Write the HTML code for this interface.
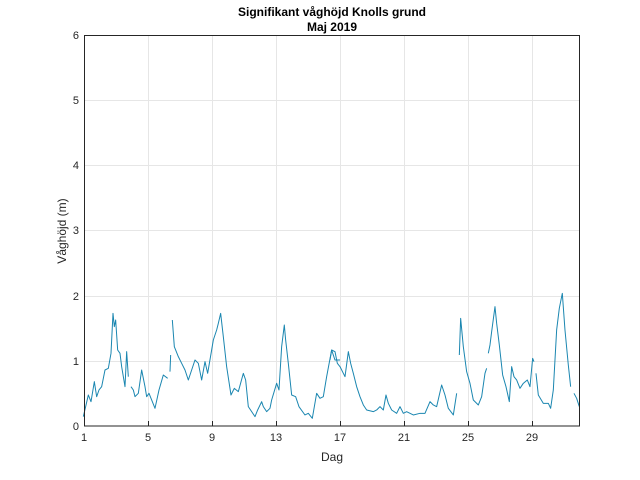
<!DOCTYPE html>
<html><head><meta charset="utf-8"><style>
body{margin:0;background:#fff;}
svg{display:block;font-family:"Liberation Sans",sans-serif;}
</style></head><body>
<svg width="640" height="480" viewBox="0 0 640 480">
<rect width="640" height="480" fill="#fff"/>
<g stroke="#e6e6e6" stroke-width="1">
<line x1="148.5" y1="35" x2="148.5" y2="426"/><line x1="212.5" y1="35" x2="212.5" y2="426"/>
<line x1="276.5" y1="35" x2="276.5" y2="426"/><line x1="340.5" y1="35" x2="340.5" y2="426"/>
<line x1="404.5" y1="35" x2="404.5" y2="426"/><line x1="468.5" y1="35" x2="468.5" y2="426"/>
<line x1="532.5" y1="35" x2="532.5" y2="426"/>
<line x1="84" y1="361.5" x2="580" y2="361.5"/><line x1="84" y1="296.5" x2="580" y2="296.5"/>
<line x1="84" y1="230.5" x2="580" y2="230.5"/><line x1="84" y1="165.5" x2="580" y2="165.5"/>
<line x1="84" y1="100.5" x2="580" y2="100.5"/>
</g>
<g fill="none" stroke="#1a86b0" stroke-width="1" stroke-linejoin="round">
<g transform="translate(75,280) scale(0.3333)">
<polyline vector-effect="non-scaling-stroke" points="25,410 40,345 48,365 58,305 65,350 72,330 80,320 90,270 100,265 108,220 114,100 118,140 122,120 128,210 135,220 140,260 150,320 155,215 160,290"/>
<polyline vector-effect="non-scaling-stroke" points="168,320 175,330 180,350 190,340 200,270 210,320 215,350 222,340 240,385 252,330 265,285 278,295"/>
<polyline vector-effect="non-scaling-stroke" points="285,275 287,225"/>
<polyline vector-effect="non-scaling-stroke" points="292,120 298,200 310,230 320,250 330,270 340,300 350,270 360,240 370,250 380,300 390,245 398,280 410,210 415,180 425,150 430,130 437,100 445,170 455,260 468,345 478,325 490,335 505,280 512,300 520,380 540,410 548,390 560,365 565,380 575,395 585,385 590,360 605,310 612,330 620,200 628,135 632,180 640,250 650,345 662,350 672,380 690,405 700,400 712,415 725,340 735,355 745,350 755,290 770,210 780,240 795,240"/>
</g>
<g transform="translate(330,280) scale(0.3333)">
<polyline vector-effect="non-scaling-stroke" points="0,240 5,210 15,215 22,250 30,260 40,280 45,290 55,215 62,250 70,280 80,320 90,350 100,375 110,390 130,395 140,390 150,380 160,390 168,345 175,370 185,390 200,400 210,380 220,400 230,395 250,405 270,400 285,400 300,365 310,375 320,380 328,345 335,315 345,345 355,385 370,405 380,340"/>
<polyline vector-effect="non-scaling-stroke" points="388,225 392,115 400,200 410,275 420,310 430,360 445,375 455,350 465,280 470,265"/>
<polyline vector-effect="non-scaling-stroke" points="475,220 480,195 485,155 495,80 500,130 508,195 518,285 528,320 538,365 545,260 552,290 560,300 570,325 580,310 592,300 600,320 608,235 612,245"/>
<polyline vector-effect="non-scaling-stroke" points="618,280 625,345 640,370 655,370 662,385 670,330 680,150 688,85 697,40 705,150 715,255 722,320"/>
<polyline vector-effect="non-scaling-stroke" points="732,340 740,355 748,380"/>
</g>
</g>
<rect x="84.5" y="35.5" width="495" height="390.5" fill="none" stroke="#262626" stroke-width="1"/>
<g stroke="#262626" stroke-width="1">
<line x1="148.5" y1="426" x2="148.5" y2="421"/><line x1="212.5" y1="426" x2="212.5" y2="421"/>
<line x1="276.5" y1="426" x2="276.5" y2="421"/><line x1="340.5" y1="426" x2="340.5" y2="421"/>
<line x1="404.5" y1="426" x2="404.5" y2="421"/><line x1="468.5" y1="426" x2="468.5" y2="421"/>
<line x1="532.5" y1="426" x2="532.5" y2="421"/>
</g>
<g font-size="11" fill="#262626" text-anchor="middle">
<text x="84" y="441">1</text><text x="148" y="441">5</text><text x="212" y="441">9</text>
<text x="276" y="441">13</text><text x="340" y="441">17</text><text x="404" y="441">21</text>
<text x="468" y="441">25</text><text x="532" y="441">29</text>
</g>
<g font-size="11" fill="#262626" text-anchor="end">
<text x="79" y="430">0</text><text x="79" y="365">1</text><text x="79" y="300">2</text>
<text x="79" y="234">3</text><text x="79" y="169">4</text><text x="79" y="104">5</text>
<text x="79" y="39">6</text>
</g>
<text x="332" y="461" font-size="12" fill="#262626" text-anchor="middle">Dag</text>
<text transform="translate(66,231) rotate(-90)" font-size="12" fill="#262626" text-anchor="middle">Våghöjd (m)</text>
<text x="332" y="16" font-size="12" font-weight="bold" fill="#000" text-anchor="middle">Signifikant våghöjd Knolls grund</text>
<text x="332" y="31" font-size="12" font-weight="bold" fill="#000" text-anchor="middle">Maj 2019</text>
</svg>
</body></html>
